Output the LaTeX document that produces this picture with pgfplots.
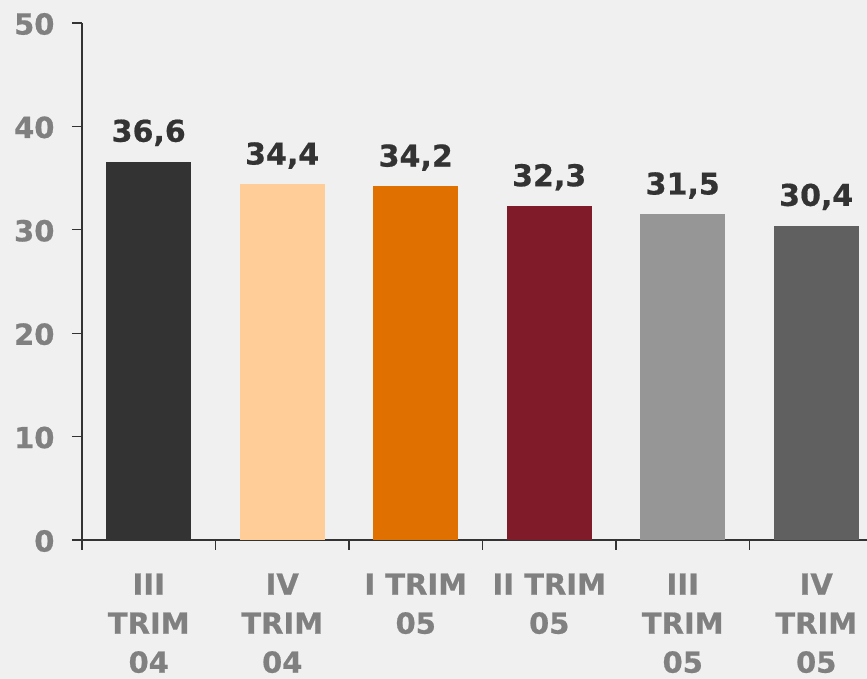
\documentclass[border=0pt]{standalone}
\usepackage{fontspec}
\setmainfont{DejaVu Sans}[BoldFeatures={FakeBold=0.6}]
\usepackage{pgfplots}
\pgfplotsset{compat=1.18}
\definecolor{bgcol}{HTML}{F0F0F0}
\definecolor{axiscol}{HTML}{333333}
\definecolor{tickgray}{HTML}{808080}
\definecolor{valcol}{HTML}{333333}
\definecolor{cA}{HTML}{333333}
\definecolor{cB}{HTML}{FECD98}
\definecolor{cC}{HTML}{E07000}
\definecolor{cD}{HTML}{801B2A}
\definecolor{cE}{HTML}{969696}
\definecolor{cF}{HTML}{606060}
\begin{document}
\begin{tikzpicture}
\fill[bgcol] (0,0) rectangle (867pt,679pt);
\useasboundingbox (0,0) rectangle (867pt,679pt);
\begin{axis}[
  at={(82pt,139pt)}, anchor=south west,
  scale only axis, width=801pt, height=517pt,
  xmin=-0.5, xmax=5.5, ymin=0, ymax=50,
  axis x line=bottom, axis y line=left,
  axis line style={-, draw=axiscol, line width=1.3pt},
  ytick={0,10,20,30,40,50},
  xtick={-0.5,0.5,1.5,2.5,3.5,4.5,5.5}, xticklabels={},
  extra x ticks={0,1,2,3,4,5},
  extra x tick labels={{III\\TRIM\\04},{IV\\TRIM\\04},{I TRIM\\05},{II TRIM\\05},{III\\TRIM\\05},{IV\\TRIM\\05}},
  extra x tick style={major tick length=0pt, tick style={draw=none}},
  tick align=outside, major tick length=10pt,
  tick style={draw=axiscol, line width=1.3pt},
  /pgf/number format/assume math mode=true,
  yticklabel style={font=\fontsize{29}{34}\selectfont\bfseries, text=tickgray, xshift=-14pt, yshift=-1pt},
  xticklabel style={font=\fontsize{29}{39}\selectfont\bfseries, text=tickgray, align=center, yshift=-30pt},
  nodes near coords,
  nodes near coords style={/pgf/number format/.cd, use comma, fixed, fixed zerofill, precision=1, assume math mode=true, /tikz/.cd, font=\fontsize{30}{34}\selectfont\bfseries, text=valcol, yshift=12pt},
  every axis plot/.append style={ybar, bar width=85pt, bar shift=0pt, draw=none},
]
\addplot[fill=cA] coordinates {(0,36.6)};
\addplot[fill=cB] coordinates {(1,34.4)};
\addplot[fill=cC] coordinates {(2,34.2)};
\addplot[fill=cD] coordinates {(3,32.3)};
\addplot[fill=cE] coordinates {(4,31.5)};
\addplot[fill=cF] coordinates {(5,30.4)};
\end{axis}
\end{tikzpicture}
\end{document}
